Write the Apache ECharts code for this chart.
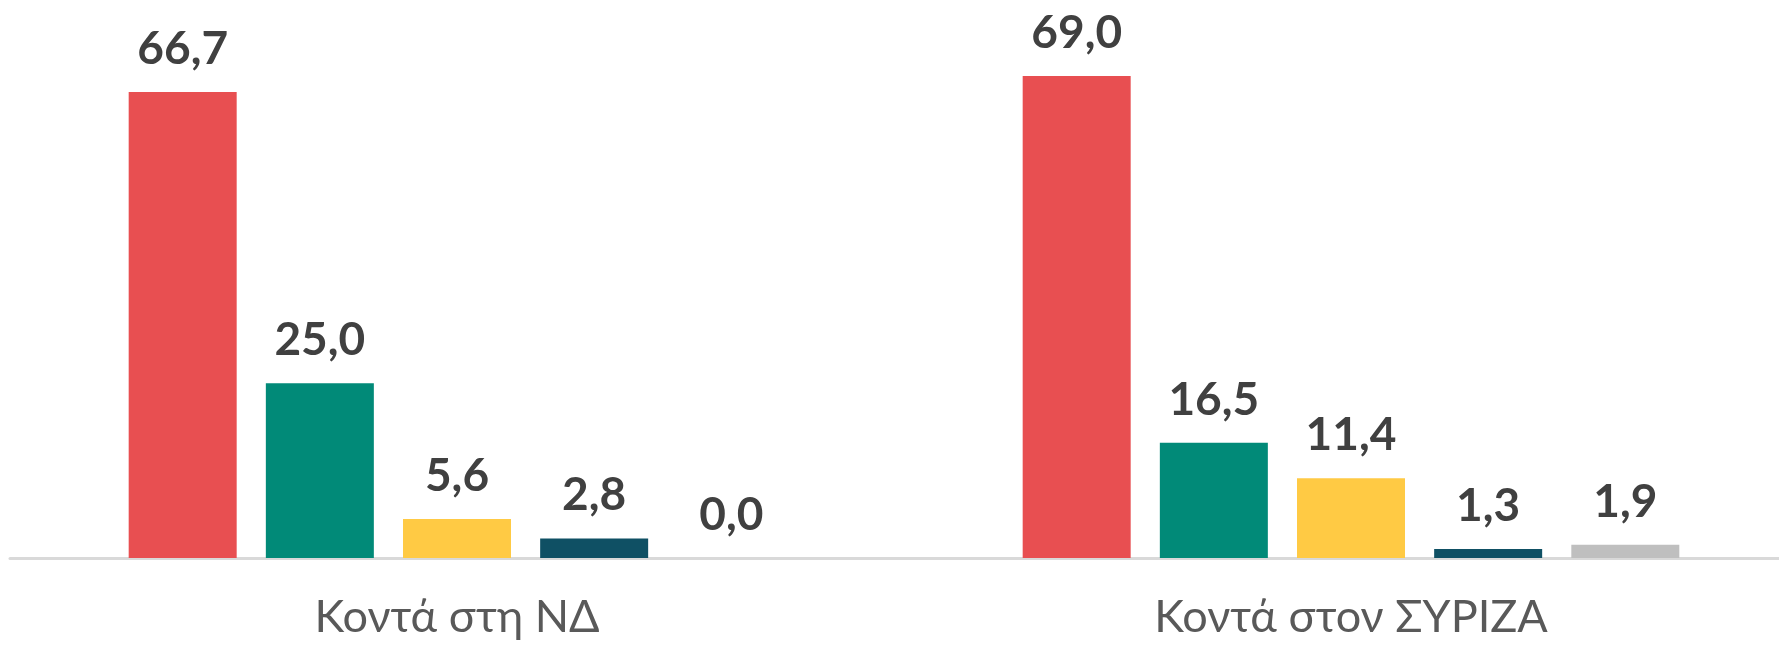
<!DOCTYPE html>
<html>
<head>
<meta charset="utf-8">
<script src="https://cdn.jsdelivr.net/npm/echarts@6/dist/echarts.min.js"></script>
<style>html,body{margin:0;padding:0;background:#fff}#c{width:1779px;height:645px}</style>
</head>
<body>
<div id="c"></div>
<script>
const categories = ['Κοντά στη ΝΔ', 'Κοντά στον ΣΥΡΙΖΑ'];
const seriesNames = ['Σειρά 1', 'Σειρά 2', 'Σειρά 3', 'Σειρά 4', 'Σειρά 5'];
const s1 = [66.7, 69.0];
const s2 = [25.0, 16.5];
const s3 = [5.6, 11.4];
const s4 = [2.8, 1.3];
const s5 = [0.0, 1.9];
const colors = ['#E84F51', '#018A78', '#FFCA44', '#0F5064', '#BFBFBF'];

const allData = [s1, s2, s3, s4, s5];
const chart = echarts.init(document.getElementById('c'));
chart.setOption({
  animation: false,
  grid: { left: 10, top: 69, width: 1788, height: 489, outerBoundsMode: 'none', containLabel: false },
  xAxis: {
    type: 'category',
    data: categories,
    axisTick: { show: false },
    axisLine: { lineStyle: { color: '#D9D9D9', width: 3 } },
    axisLabel: { color: '#595959', fontSize: 45, fontFamily: "Lato, 'Noto Sans', sans-serif", margin: 37 }
  },
  yAxis: { type: 'value', min: 0, max: 70, show: false, splitLine: { show: false } },
  series: allData.map((d, i) => ({
    name: seriesNames[i],
    type: 'bar',
    data: d,
    barWidth: 108,
    barGap: '27%',
    itemStyle: { color: colors[i] },
    label: {
      show: true,
      position: 'top',
      distance: 20,
      color: '#404040',
      fontSize: 46,
      fontWeight: 'bold',
      fontFamily: "Lato, 'Noto Sans', sans-serif",
      formatter: p => p.value.toFixed(1).replace('.', ',')
    }
  }))
});
</script>
</body>
</html>
